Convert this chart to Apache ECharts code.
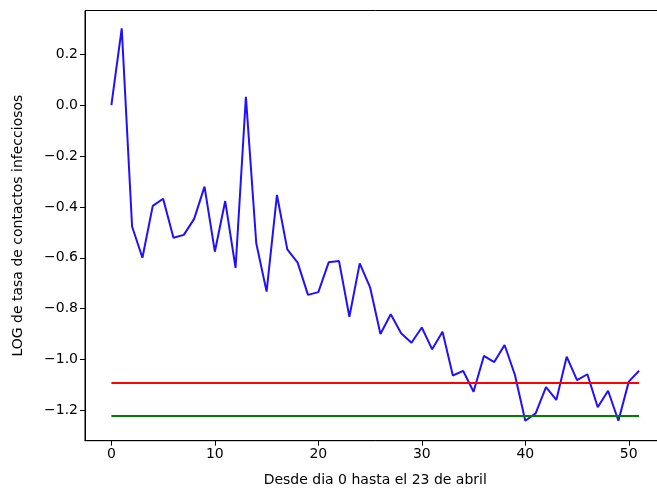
<!DOCTYPE html>
<html>
<head>
<meta charset="utf-8">
<script src="https://cdn.jsdelivr.net/npm/echarts@6/dist/echarts.min.js"></script>
<style>
html,body{margin:0;padding:0;background:#fff;overflow:hidden;}
#c{width:700px;height:489px;}
</style>
</head>
<body>
<div id="c"></div>
<script>
// Data
const days = [0,1,2,3,4,5,6,7,8,9,10,11,12,13,14,15,16,17,18,19,20,21,22,23,24,25,26,27,28,29,30,31,32,33,34,35,36,37,38,39,40,41,42,43,44,45,46,47,48,49,50,51];
const logRate = [0.0, 0.302, -0.477, -0.600, -0.396, -0.368, -0.521, -0.510, -0.447, -0.320,
  -0.576, -0.377, -0.640, 0.033, -0.543, -0.733, -0.353, -0.567, -0.619, -0.746,
  -0.735, -0.618, -0.613, -0.832, -0.622, -0.716, -0.900, -0.822, -0.897, -0.934,
  -0.874, -0.960, -0.891, -1.063, -1.045, -1.127, -0.986, -1.010, -0.943, -1.061,
  -1.241, -1.212, -1.109, -1.159, -0.989, -1.081, -1.058, -1.188, -1.123, -1.241,
  -1.087, -1.044];
const redLevel = -1.0925;
const greenLevel = -1.222;
const xTicks = [0, 10, 20, 30, 40, 50];
const yTicks = [-1.2, -1.0, -0.8, -0.6, -0.4, -0.2, 0.0, 0.2];
const xTitle = 'Desde dia 0 hasta el 23 de abril';
const yTitle = 'LOG de tasa de contactos infecciosos';

const blueData = days.map((d, i) => [d, logRate[i]]);
const redData = [[days[0], redLevel], [days[days.length - 1], redLevel]];
const greenData = [[days[0], greenLevel], [days[days.length - 1], greenLevel]];

const font = 'DejaVu Sans';
const chart = echarts.init(document.getElementById('c'), null, {renderer: 'canvas'});
chart.setOption({
  animation: false,
  backgroundColor: '#ffffff',
  grid: {left: 85, top: 10.5, width: 580.5, height: 430.2, show: true, borderColor: '#000', borderWidth: 1,
    backgroundColor: 'transparent', containLabel: false, outerBoundsMode: 'none'},
  xAxis: {
    type: 'value', min: -2.55, max: 53.55,
    name: xTitle, nameLocation: 'middle', nameGap: 33,
    nameTextStyle: {fontFamily: font, fontSize: 14, color: '#000', verticalAlign: 'top'},
    axisLine: {show: true, onZero: false, lineStyle: {color: '#000', width: 1}},
    axisTick: {show: true, length: 5, lineStyle: {color: '#000'}, customValues: xTicks},
    axisLabel: {show: true, margin: 7, fontFamily: font, fontSize: 14, color: '#000', customValues: xTicks,
      formatter: v => String(v)},
    splitLine: {show: false}
  },
  yAxis: {
    type: 'value', min: -1.3193, max: 0.3724,
    name: yTitle, nameLocation: 'middle', nameGap: 60, nameRotate: 90,
    nameTextStyle: {fontFamily: font, fontSize: 14, color: '#000'},
    axisLine: {show: true, onZero: false, lineStyle: {color: '#000', width: 1}},
    axisTick: {show: true, length: 5, lineStyle: {color: '#000'}, customValues: yTicks},
    axisLabel: {show: true, margin: 7, fontFamily: font, fontSize: 14, color: '#000', customValues: yTicks,
      formatter: v => (v < -1e-9 ? '\u2212' : '') + Math.abs(v).toFixed(1)},
    splitLine: {show: false}
  },
  series: [
    {type: 'line', data: blueData, showSymbol: false, symbol: 'none', lineStyle: {color: '#2010ff', width: 2}, z: 2},
    {type: 'line', data: redData, showSymbol: false, symbol: 'none', lineStyle: {color: '#ff0000', width: 2}, z: 3},
    {type: 'line', data: greenData, showSymbol: false, symbol: 'none', lineStyle: {color: '#008000', width: 2}, z: 4}
  ]
});
</script>
</body>
</html>
